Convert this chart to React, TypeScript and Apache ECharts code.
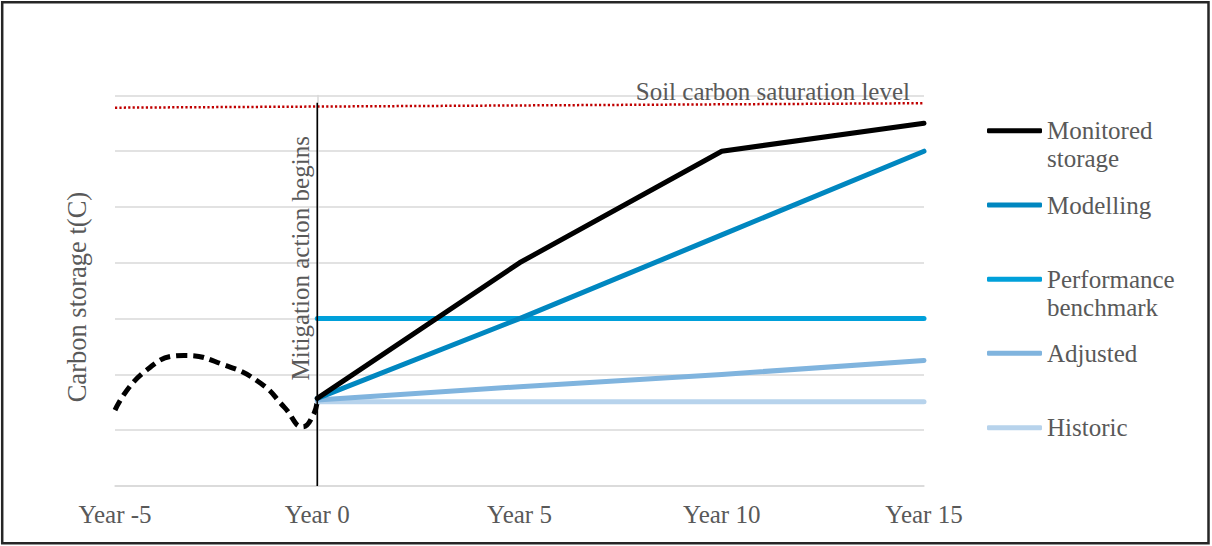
import React, { useEffect, useRef } from "react";
import * as echarts from "echarts";

// ---- data ----
const xTickValues = [-5, 0, 5, 10, 15];
const pastYears = [-5, -4.3, -3.3, -2.3, -1.4, -0.8, -0.36, -0.1, 0];
const pastStorage = [1.36, 2.03, 2.34, 2.17, 1.84, 1.4, 1.06, 1.27, 1.53];
const projYears = [0, 5, 10, 15];
const monitored = [1.57, 4.0, 6.0, 6.5];
const modelling = [1.57, 3.0, 4.5, 6.0];
const benchmark = [3.0, 3.0, 3.0, 3.0];
const adjusted = [1.54, 1.78, 2.0, 2.25];
const historic = [1.51, 1.51, 1.51, 1.51];
const saturationYears = [-5, 15];
const saturationLevel = [6.78, 6.86];
const mitigationYear = 0;
const mitigationSpan = [0, 6.87];

const FONT = "Liberation Serif";
const TXT = "#595959";

const zip = (xs: number[], ys: number[]) => xs.map((x, i) => [x, ys[i]]);

const colors = {
  monitored: "#000000",
  modelling: "#0087C0",
  benchmark: "#00A0DA",
  adjusted: "#80B4DE",
  historic: "#B7D3EC",
};

function lineSeries(name: string, data: number[][], color: string, z: number) {
  return {
    name,
    type: "line",
    data,
    color,
    showSymbol: false,
    symbol: "none",
    z,
    lineStyle: { color, width: 5, cap: "round", join: "round" },
  };
}

function legendItem(name: string, lines: string[], iconY: number) {
  // two-line names get an empty first line so the icon sits beside the first word line
  const text = lines.length > 1 ? ["\u00a0", ...lines].join("\n") : lines[0];
  const boxH = (lines.length > 1 ? 3 : 1) * 28;
  return {
    data: [name],
    orient: "vertical",
    left: 987,
    top: iconY - boxH / 2,
    padding: 0,
    icon: "roundRect",
    itemWidth: 55,
    itemHeight: 5,
    itemStyle: { borderWidth: 0 },
    selectedMode: false,
    formatter: () => text,
    textStyle: {
      fontFamily: FONT,
      fontSize: 25,
      color: TXT,
      lineHeight: 28,
    },
  };
}

export default function App() {
  const ref = useRef<HTMLDivElement>(null);
  useEffect(() => {
    if (!ref.current) return;
    const chart = echarts.init(ref.current, null, { renderer: "svg" });
    const option: any = {
      animation: false,
      backgroundColor: "#ffffff",
      grid: { left: 115, right: 288, top: 95.4, bottom: 60, containLabel: false },
      xAxis: {
        type: "value",
        min: -5,
        max: 15,
        interval: 5,
        axisLine: { show: true, lineStyle: { color: "#d9d9d9", width: 1.5 } },
        axisTick: { show: false },
        splitLine: { show: false },
        axisLabel: {
          customValues: xTickValues,
          formatter: (v: number) => `Year ${v}`,
          fontFamily: FONT,
          fontSize: 25,
          color: TXT,
          margin: 16,
        },
      },
      yAxis: {
        type: "value",
        min: 0,
        max: 7,
        interval: 1,
        offset: 5,
        axisLine: { show: true, lineStyle: { color: "#d9d9d9", width: 1.5 } },
        axisTick: { show: false },
        axisLabel: { show: false },
        splitLine: { show: true, lineStyle: { color: "#d9d9d9", width: 1.5 } },
      },
      legend: [
        legendItem("Monitored storage", ["Monitored", "storage"], 130.7),
        legendItem("Modelling", ["Modelling"], 205),
        legendItem("Performance benchmark", ["Performance", "benchmark"], 279.3),
        legendItem("Adjusted", ["Adjusted"], 353.3),
        legendItem("Historic", ["Historic"], 427.7),
      ],
      series: [
        {
          name: "Soil carbon saturation level",
          type: "line",
          data: zip(saturationYears, saturationLevel),
          showSymbol: false,
          symbol: "none",
          z: 1,
          lineStyle: { color: "#C00000", width: 2.5, type: [2.2, 2.2] },
        },
        {
          name: "Past storage",
          type: "line",
          data: zip(pastYears, pastStorage),
          smooth: 0.5,
          showSymbol: false,
          symbol: "none",
          z: 2,
          lineStyle: { color: "#000000", width: 5, type: [11, 6], cap: "butt", join: "round" },
        },
        {
          name: "Mitigation action begins",
          type: "line",
          data: mitigationSpan.map((v) => [mitigationYear, v]),
          showSymbol: false,
          symbol: "none",
          z: 8,
          lineStyle: { color: "#000000", width: 1.6 },
        },
        lineSeries("Historic", zip(projYears, historic), colors.historic, 3),
        lineSeries("Adjusted", zip(projYears, adjusted), colors.adjusted, 4),
        lineSeries("Performance benchmark", zip(projYears, benchmark), colors.benchmark, 5),
        lineSeries("Modelling", zip(projYears, modelling), colors.modelling, 6),
        lineSeries("Monitored storage", zip(projYears, monitored), colors.monitored, 7),
      ],
    };
    chart.setOption(option);

    const mit = chart.convertToPixel({ gridIndex: 0 }, [mitigationYear, 4.08]) as number[];
    const sat = chart.convertToPixel(
      { gridIndex: 0 },
      [saturationYears[1], saturationLevel[1]]
    ) as number[];
    const mid = chart.convertToPixel({ gridIndex: 0 }, [-5, 3.35]) as number[];

    chart.setOption({
      graphic: [
        {
          type: "rect",
          shape: { x: 2.2, y: 2.2, width: 1206.3, height: 541.1 },
          style: { fill: "none", stroke: "#262626", lineWidth: 2.5 },
          silent: true,
        },
        {
          type: "text",
          x: mid[0] - 38,
          y: mid[1] - 2,
          rotation: Math.PI / 2,
          style: {
            text: "Carbon storage t(C)",
            fontFamily: FONT,
            fontSize: 26.5,
            fill: TXT,
            align: "center",
            verticalAlign: "middle",
            textAlign: "center",
            textVerticalAlign: "middle",
          },
        },
        {
          type: "text",
          x: mit[0] - 17,
          y: mit[1],
          rotation: Math.PI / 2,
          z: 10,
          style: {
            text: "Mitigation action begins",
            fontFamily: FONT,
            fontSize: 25,
            fill: TXT,
            align: "center",
            verticalAlign: "middle",
            textAlign: "center",
            textVerticalAlign: "middle",
          },
        },
        {
          type: "text",
          x: sat[0] - 14,
          y: sat[1] - 12,
          z: 10,
          style: {
            text: "Soil carbon saturation level",
            fontFamily: FONT,
            fontSize: 25,
            fill: TXT,
            align: "right",
            verticalAlign: "middle",
            textAlign: "right",
            textVerticalAlign: "middle",
          },
        },
      ],
    });

    return () => chart.dispose();
  }, []);
  return (
    <div
      ref={ref}
      style={{ position: "fixed", left: 0, top: 0, width: 1212, height: 546 }}
    />
  );
}
